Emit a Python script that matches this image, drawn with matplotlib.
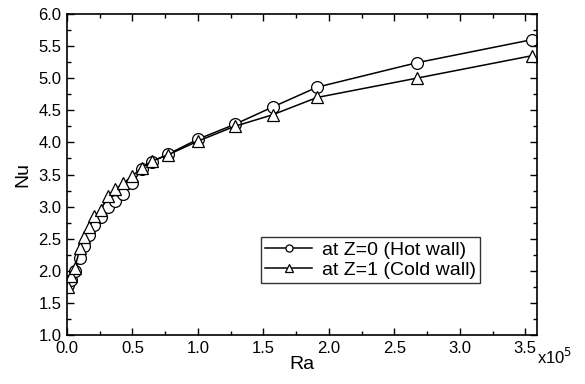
import matplotlib
matplotlib.use("Agg")
import matplotlib.pyplot as plt
from matplotlib.ticker import MultipleLocator, FormatStrFormatter

# Ra in units of 1e5
ra = [0.01, 0.03, 0.06, 0.10, 0.13, 0.17, 0.21, 0.26, 0.31, 0.365, 0.43,
      0.50, 0.57, 0.65, 0.775, 1.0, 1.28, 1.57, 1.91, 2.67, 3.55]
nu_hot = [1.78, 1.85, 2.0, 2.2, 2.38, 2.56, 2.72, 2.84, 3.0, 3.09, 3.2,
          3.37, 3.58, 3.70, 3.82, 4.05, 4.28, 4.55, 4.86, 5.24, 5.60]
nu_cold = [1.75, 1.92, 2.05, 2.35, 2.52, 2.68, 2.85, 2.95, 3.16, 3.27, 3.36,
           3.48, 3.60, 3.71, 3.81, 4.02, 4.25, 4.43, 4.70, 5.00, 5.35]

labels = ["at Z=0 (Hot wall)", "at Z=1 (Cold wall)"]

plt.rcParams['font.family'] = ['Liberation Sans', 'DejaVu Sans']

fig = plt.figure(figsize=(5.85, 3.84), dpi=100)
ax = fig.add_axes([0.1145, 0.1276, 0.8035, 0.8359])

ax.plot(ra, nu_hot, color='black', lw=1.1, marker='o', ms=8.5,
        mfc='white', mec='black', mew=0.9, label=labels[0])
ax.plot(ra, nu_cold, color='black', lw=1.1, marker='^', ms=9,
        mfc='white', mec='black', mew=0.9, label=labels[1])

ax.set_xlim(0, 3.59)
ax.set_ylim(1.0, 6.0)
ax.xaxis.set_major_locator(MultipleLocator(0.5))
ax.xaxis.set_minor_locator(MultipleLocator(0.25))
ax.yaxis.set_major_locator(MultipleLocator(0.5))
ax.yaxis.set_minor_locator(MultipleLocator(0.25))
ax.xaxis.set_major_formatter(FormatStrFormatter('%.1f'))
ax.yaxis.set_major_formatter(FormatStrFormatter('%.1f'))
ax.tick_params(which='both', direction='in', top=True, right=True,
               labelsize=12, width=1)
ax.tick_params(which='major', length=5, pad=4)
ax.tick_params(which='minor', length=3)
for s in ax.spines.values():
    s.set_linewidth(1.2)

ax.set_xlabel('Ra', fontsize=14, labelpad=0)
ax.set_ylabel('Nu', fontsize=14, labelpad=5)
ax.text(1.0, -0.037, r'x10$^5$', transform=ax.transAxes,
        fontsize=12, ha='left', va='top')

leg = ax.legend(loc='lower right', bbox_to_anchor=(0.879, 0.162),
                fontsize=14, frameon=True, fancybox=False,
                edgecolor='black', handlelength=2.4, handletextpad=0.5,
                borderpad=0.22, labelspacing=0.1, markerscale=0.6,
                borderaxespad=0)
leg.get_frame().set_linewidth(1.0)

fig.savefig('out.png', dpi=100)
